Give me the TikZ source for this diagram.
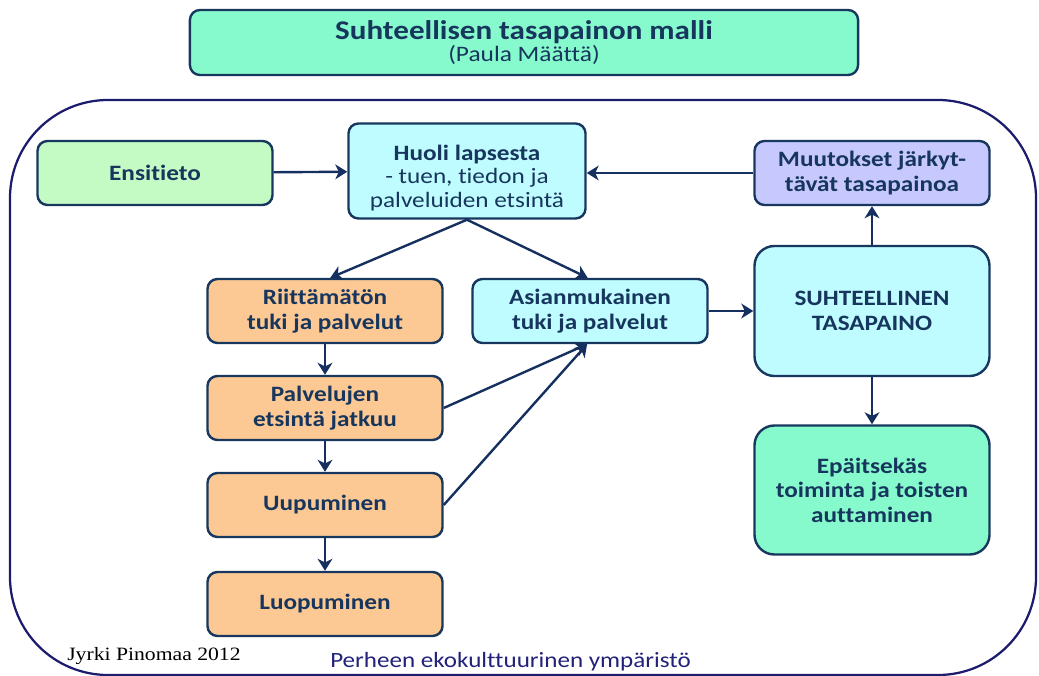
\documentclass[tikz,border=0pt]{standalone}
\usepackage{fontspec}
\setmainfont{Carlito}[FakeStretch=1.15, Ligatures=NoCommon]
\newfontfamily\creditfont{Liberation Serif}[FakeStretch=1.15]
\usetikzlibrary{
  positioning,
  arrows.meta,
}
\definecolor{edgeblue}{HTML}{17375E}
\definecolor{arrowblue}{HTML}{15305F}
\definecolor{frameblue}{HTML}{1C1C6E}
\definecolor{textblue}{HTML}{17365D}
\definecolor{envblue}{HTML}{22227A}
\definecolor{mint}{HTML}{86FACC}
\definecolor{palegreen}{HTML}{C4FAC4}
\definecolor{palecyan}{HTML}{BFFCFF}
\definecolor{lavender}{HTML}{C6C8FE}
\definecolor{apricot}{HTML}{FCC994}
\tikzset{
  >={Stealth[length=8.5pt,width=10.5pt,inset=2.5pt]},
  flow/.style={
    ->,
    line width=1.7pt,
    draw=arrowblue
  },
  box/.style={
    rectangle,
    rounded corners=0.25cm,
    draw=edgeblue,
    line width=1.7pt,
    minimum width=5.875cm,
    minimum height=1.6cm,
    align=center,
    inner sep=2pt,
    text=textblue,
    font=\fontsize{15.6}{17.5}\selectfont\bfseries,
  },
  titlebox/.style={
    box,
    fill=mint,
    minimum width=16.7cm,
    minimum height=1.625cm,
  },
  start/.style={box, fill=palegreen},
  care/.style={box, fill=palecyan},
  lack/.style={box, fill=apricot},
  shock/.style={box, fill=lavender},
  balance/.style={box, fill=palecyan, rounded corners=0.5cm, minimum height=3.25cm},
  helping/.style={box, fill=mint, rounded corners=0.5cm, minimum height=3.225cm},
  frame/.style={draw=frameblue, line width=1.6pt, rounded corners=2.45cm},
}
\begin{document}
\begin{tikzpicture}[x=0.025cm, y=-0.025cm]
  \useasboundingbox (0,0) rectangle (1039,676);
  % surrounding environment
  \draw[frame] (10,100) rectangle (1036,675);

  \node[titlebox] (title) at (524,42.5)
    {{\fontsize{19.2}{22}\selectfont Suhteellisen tasapainon malli}\\[-2pt]
     {\fontsize{15.7}{18}\selectfont\mdseries (Paula Määttä)}};

  % top row
  \node[start] (ensi) at (155,173) {Ensitieto};
  \node[care, minimum width=5.925cm, minimum height=2.375cm] (huoli) at (467,171)
    {\rule{0pt}{21pt}Huoli lapsesta\\[-1pt]{\mdseries - tuen, tiedon ja}\\[-1pt]{\mdseries palveluiden etsintä}};
  \node[shock] (muutos) at (872,173) {Muutokset järkyt-\\tävät tasapainoa};

  % left column
  \node[lack] (riitta) at (325,311) {Riittämätön\\tuki ja palvelut};
  \node[lack] (palv) at (325,408) {Palvelujen\\etsintä jatkuu};
  \node[lack] (uup) at (325,505) {Uupuminen};
  \node[lack] (luop) at (325,604) {Luopuminen};

  % middle and right
  \node[care] (asian) at (590,311) {Asianmukainen\\tuki ja palvelut};
  \node[balance] (suht) at (872,311) {SUHTEELLINEN\\TASAPAINO};
  \node[helping] (epa) at (872,490) {Epäitsekäs\\toiminta ja toisten\\auttaminen};

  % connectors
  \draw[flow] (ensi) -- (huoli);
  \draw[flow] (muutos) -- (huoli.east |- muutos);
  \draw[flow] (huoli.south) -- (riitta.81);
  \draw[flow] (huoli.south) -- (asian.94);
  \draw[flow] (riitta) -- (palv);
  \draw[flow] (palv) -- (uup);
  \draw[flow] (uup) -- (luop);
  \draw[flow] (palv.east) -- (asian.265);
  \draw[flow] (uup.east) -- (asian.265);
  \draw[flow] (asian) -- (suht);
  \draw[flow] (suht) -- (muutos);
  \draw[flow] (suht) -- (epa);

  % labels at the bottom
  \node[anchor=base west, inner sep=0pt, font=\creditfont\fontsize{13.4}{15}\selectfont] (credit)
    at (67,660) {Jyrki Pinomaa 2012};
  \node[anchor=base west, inner sep=0pt, text=envblue, font=\fontsize{15.5}{18}\selectfont] (env)
    at (330,667) {Perheen ekokulttuurinen ympäristö};
\end{tikzpicture}
\end{document}
